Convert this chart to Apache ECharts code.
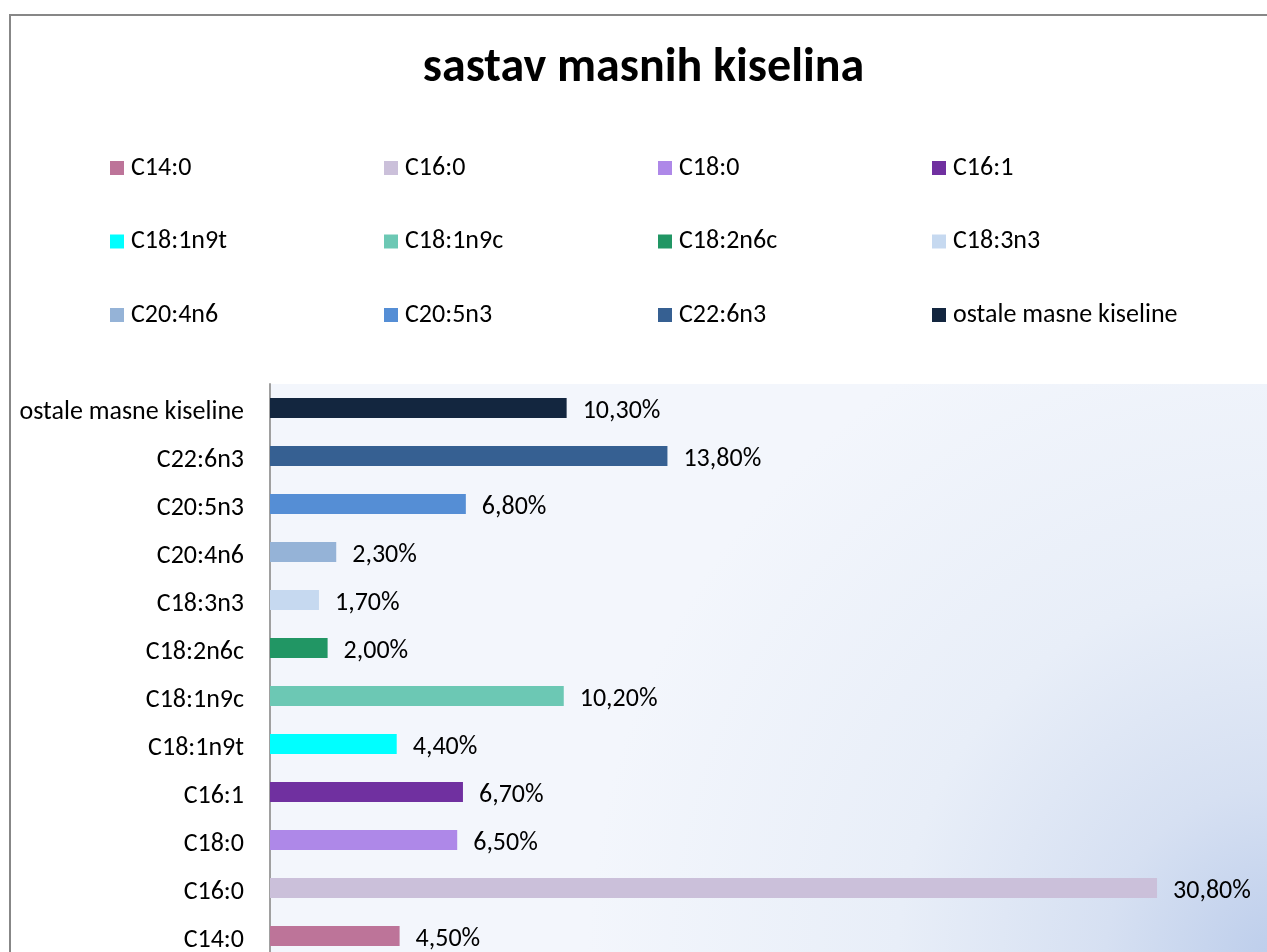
<!DOCTYPE html>
<html>
<head>
<meta charset="utf-8">
<script src="https://cdn.jsdelivr.net/npm/echarts@6/dist/echarts.min.js"></script>
<style>
html, body { margin: 0; padding: 0; overflow: hidden; background: #fff; }
#main { position: absolute; left: 0; top: 0; width: 1287px; height: 990px; }
</style>
</head>
<body>
<div id="main"></div>
<script>
// kategorije (odozdo prema gore)
var categories = ['C14:0', 'C16:0', 'C18:0', 'C16:1', 'C18:1n9t', 'C18:1n9c',
	'C18:2n6c', 'C18:3n3', 'C20:4n6', 'C20:5n3', 'C22:6n3', 'ostale masne kiseline'];
var values = [4.5, 30.8, 6.5, 6.7, 4.4, 10.2, 2.0, 1.7, 2.3, 6.8, 13.8, 10.3];
var colors = ['#bd7499', '#cbc0da', '#ae88e8', '#7030a0', '#00ffff', '#6cc8b4',
	'#219664', '#c6d9f0', '#95b3d7', '#558ed5', '#366092', '#13263f'];

var fontFam = "Carlito, Lato, 'Noto Sans', sans-serif";
var fs = 26;

var myChart = echarts.init(document.getElementById('main'));

var series = [];
var legends = [];
for (var i = 0; i < categories.length; i++) {
	var d = [];
	for (var j = 0; j < categories.length; j++) {
		d.push(j == i ? values[i] : '-');
	}
	series.push({
		name : categories[i],
		type : 'bar',
		stack : 'sve',
		barWidth : 20,
		data : d,
		itemStyle : { color : colors[i] },
		label : {
			show : true,
			position : 'right',
			distance : 16,
			offset : [0, 3],
			color : '#000',
			fontSize : fs,
			fontFamily : fontFam,
			formatter : function(p) {
				return p.value.toFixed(2).replace('.', ',') + '%';
			}
		}
	});
	// legenda 4 stupca x 3 reda
	var col = i % 4, row = Math.floor(i / 4);
	legends.push({
		data : [ categories[i] ],
		left : 110 + col * 274,
		top : 166 + row * 73.5 - 11,
		padding : 0,
		itemWidth : 14,
		itemHeight : 14,
		itemGap : 0,
		icon : 'rect',
		selectedMode : false,
		textStyle : { fontSize : fs, color : '#000', fontFamily : fontFam, padding : [0, 0, 0, 2] }
	});
}

var option = {
	animation : false,
	title : {
		text : 'sastav masnih kiselina',
		left : 'center',
		top : 40,
		textStyle : { fontSize : 48, fontWeight : 'bold', color : '#000', fontFamily : fontFam }
	},
	legend : legends,
	graphic : [ {
		type : 'polyline',
		shape : { points : [ [10, 1000], [10, 15], [1300, 15] ] },
		style : { stroke : '#878787', lineWidth : 2, fill : null },
		z : 10
	} ],
	grid : {
		left : 270,
		top : 384,
		width : 1008,
		height : 576,
		show : true,
		borderWidth : 0,
		backgroundColor : {
			type : 'radial', x : 1, y : 1, r : 1.2,
			colorStops : [
				{ offset : 0, color : '#bccdeb' },
				{ offset : 0.25, color : '#d6e0f2' },
				{ offset : 0.55, color : '#e8eef8' },
				{ offset : 1, color : '#f3f6fc' }
			]
		}
	},
	xAxis : {
		type : 'value',
		min : 0,
		max : 35,
		interval : 5,
		show : false,
		splitLine : { show : false }
	},
	yAxis : {
		type : 'category',
		data : categories,
		axisLine : { lineStyle : { color : '#a0a0a0', width : 2 } },
		axisTick : { show : false },
		axisLabel : {
			fontSize : fs, color : '#000', margin : 26, fontFamily : fontFam,
			verticalAlign : 'top', lineHeight : 8
		}
	},
	series : series
};
myChart.setOption(option);
</script>
</body>
</html>
